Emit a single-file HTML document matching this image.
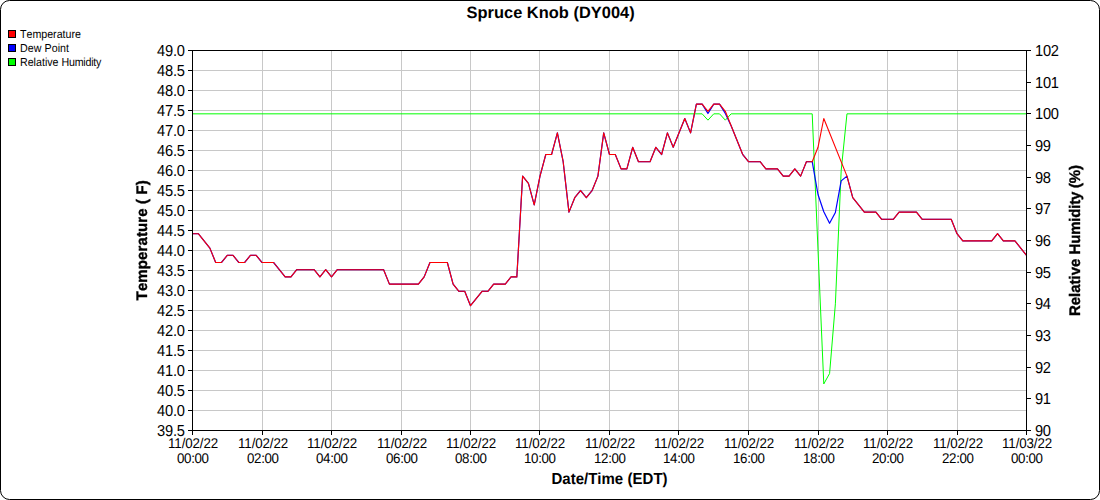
<!DOCTYPE html>
<html><head><meta charset="utf-8"><title>Spruce Knob (DY004)</title>
<style>
html,body{margin:0;padding:0;background:#fff;}
body{width:1100px;height:500px;overflow:hidden;font-family:"Liberation Sans",sans-serif;}
#c{position:absolute;left:0;top:0;width:1100px;height:500px;box-sizing:border-box;border:1px solid #000;border-radius:9.5px;background:#fff;}
svg{position:absolute;left:0;top:0;}
text{font-family:"Liberation Sans",sans-serif;fill:#000;text-rendering:geometricPrecision;}
.g{stroke:#c8c8c8;stroke-width:1;shape-rendering:crispEdges;}
.a{stroke:#000;stroke-width:1;shape-rendering:crispEdges;}
.yl{font-size:14px;text-anchor:end;}
.yr{font-size:14px;text-anchor:start;}
.xl{font-size:13px;text-anchor:middle;}
.lg{font-size:10.67px;}
.at{font-size:15px;font-weight:bold;text-anchor:middle;}
.s{fill:none;stroke-linejoin:round;}
</style></head><body>
<div id="c"></div>
<svg width="1100" height="500" viewBox="0 0 1100 500">

<line class="g" x1="193" x2="1026" y1="70.5" y2="70.5"/>
<line class="g" x1="193" x2="1026" y1="90.5" y2="90.5"/>
<line class="g" x1="193" x2="1026" y1="110.5" y2="110.5"/>
<line class="g" x1="193" x2="1026" y1="130.5" y2="130.5"/>
<line class="g" x1="193" x2="1026" y1="150.5" y2="150.5"/>
<line class="g" x1="193" x2="1026" y1="170.5" y2="170.5"/>
<line class="g" x1="193" x2="1026" y1="190.5" y2="190.5"/>
<line class="g" x1="193" x2="1026" y1="210.5" y2="210.5"/>
<line class="g" x1="193" x2="1026" y1="230.5" y2="230.5"/>
<line class="g" x1="193" x2="1026" y1="250.5" y2="250.5"/>
<line class="g" x1="193" x2="1026" y1="270.5" y2="270.5"/>
<line class="g" x1="193" x2="1026" y1="290.5" y2="290.5"/>
<line class="g" x1="193" x2="1026" y1="310.5" y2="310.5"/>
<line class="g" x1="193" x2="1026" y1="330.5" y2="330.5"/>
<line class="g" x1="193" x2="1026" y1="350.5" y2="350.5"/>
<line class="g" x1="193" x2="1026" y1="370.5" y2="370.5"/>
<line class="g" x1="193" x2="1026" y1="390.5" y2="390.5"/>
<line class="g" x1="193" x2="1026" y1="410.5" y2="410.5"/>
<line class="g" x1="262.5" x2="262.5" y1="51" y2="430"/>
<line class="g" x1="331.5" x2="331.5" y1="51" y2="430"/>
<line class="g" x1="401.5" x2="401.5" y1="51" y2="430"/>
<line class="g" x1="470.5" x2="470.5" y1="51" y2="430"/>
<line class="g" x1="539.5" x2="539.5" y1="51" y2="430"/>
<line class="g" x1="609.5" x2="609.5" y1="51" y2="430"/>
<line class="g" x1="678.5" x2="678.5" y1="51" y2="430"/>
<line class="g" x1="748.5" x2="748.5" y1="51" y2="430"/>
<line class="g" x1="818.5" x2="818.5" y1="51" y2="430"/>
<line class="g" x1="887.5" x2="887.5" y1="51" y2="430"/>
<line class="g" x1="957.5" x2="957.5" y1="51" y2="430"/>
<polyline class="s" stroke="#00ff00" stroke-width="1" points="192.50,113.83 702.17,113.83 707.96,120.17 713.75,113.83 719.54,113.83 725.33,120.17 731.12,113.83 812.21,113.83 818.00,250.00 823.79,383.95 829.58,373.50 835.38,303.83 841.17,170.83 846.96,113.83 1026.50,113.83"/>
<polyline class="s" stroke="#0000ff" stroke-width="1.2" points="192.50,233.70 198.29,233.70 209.88,248.10 215.67,262.50 221.46,262.50 227.25,255.30 233.04,255.30 238.83,262.50 244.62,262.50 250.42,255.30 256.21,255.30 262.00,262.50 273.58,262.50 285.17,276.90 290.96,276.90 296.75,269.70 314.12,269.70 319.92,276.90 325.71,269.70 331.50,276.90 337.29,269.70 383.62,269.70 389.42,284.10 418.38,284.10 424.17,276.90 429.96,262.50 447.33,262.50 453.12,284.10 458.92,291.30 464.71,291.30 470.50,305.70 482.08,291.30 487.88,291.30 493.67,284.10 505.25,284.10 511.04,276.90 516.83,276.90 522.62,176.10 528.42,183.30 534.21,204.90 540.00,176.10 545.79,154.50 551.58,154.50 557.38,132.90 563.17,161.70 568.96,212.10 574.75,197.70 580.54,190.50 586.33,197.70 592.12,190.50 597.92,176.10 603.71,132.90 609.50,154.50 615.29,154.50 621.08,168.90 626.88,168.90 632.67,147.30 638.46,161.70 650.04,161.70 655.83,147.30 661.62,154.50 667.42,132.90 673.21,147.30 684.79,118.50 690.58,132.90 696.38,104.10 702.17,104.10 707.96,113.50 713.75,104.10 719.54,104.10 725.33,113.40 731.12,125.70 742.71,154.50 748.50,161.70 760.08,161.70 765.88,168.90 777.46,168.90 783.25,176.10 789.04,176.10 794.83,168.90 800.62,176.10 806.42,161.70 812.21,161.70 818.00,194.50 823.79,211.70 829.58,223.30 835.38,212.50 841.17,180.90 846.96,176.10 852.75,197.70 864.33,212.10 875.92,212.10 881.71,219.30 893.29,219.30 899.08,212.10 916.46,212.10 922.25,219.30 951.21,219.30 957.00,233.70 962.79,240.90 991.75,240.90 997.54,233.70 1003.33,240.90 1014.92,240.90 1026.50,255.30"/>
<polyline class="s" stroke="#ff0000" stroke-width="1.1" points="192.50,233.70 198.29,233.70 209.88,248.10 215.67,262.50 221.46,262.50 227.25,255.30 233.04,255.30 238.83,262.50 244.62,262.50 250.42,255.30 256.21,255.30 262.00,262.50 273.58,262.50 285.17,276.90 290.96,276.90 296.75,269.70 314.12,269.70 319.92,276.90 325.71,269.70 331.50,276.90 337.29,269.70 383.62,269.70 389.42,284.10 418.38,284.10 424.17,276.90 429.96,262.50 447.33,262.50 453.12,284.10 458.92,291.30 464.71,291.30 470.50,305.70 482.08,291.30 487.88,291.30 493.67,284.10 505.25,284.10 511.04,276.90 516.83,276.90 522.62,176.10 528.42,183.30 534.21,204.90 540.00,176.10 545.79,154.50 551.58,154.50 557.38,132.90 563.17,161.70 568.96,212.10 574.75,197.70 580.54,190.50 586.33,197.70 592.12,190.50 597.92,176.10 603.71,132.90 609.50,154.50 615.29,154.50 621.08,168.90 626.88,168.90 632.67,147.30 638.46,161.70 650.04,161.70 655.83,147.30 661.62,154.50 667.42,132.90 673.21,147.30 684.79,118.50 690.58,132.90 696.38,104.10 702.17,104.10 707.96,111.30 713.75,104.10 719.54,104.10 725.33,111.30 742.71,154.50 748.50,161.70 760.08,161.70 765.88,168.90 777.46,168.90 783.25,176.10 789.04,176.10 794.83,168.90 800.62,176.10 806.42,161.70 812.21,161.70 818.00,147.30 823.79,118.50 846.96,176.10 852.75,197.70 864.33,212.10 875.92,212.10 881.71,219.30 893.29,219.30 899.08,212.10 916.46,212.10 922.25,219.30 951.21,219.30 957.00,233.70 962.79,240.90 991.75,240.90 997.54,233.70 1003.33,240.90 1014.92,240.90 1026.50,255.30"/>
<rect x="192.5" y="50.5" width="834" height="380" fill="none" class="a"/>
<line class="a" x1="188" x2="192" y1="50.5" y2="50.5"/>
<text transform="translate(185.00,55.85) scale(1,1.080)" font-size="14.67px" text-anchor="end" textLength="28.00" lengthAdjust="spacing">49.0</text>
<line class="a" x1="188" x2="192" y1="70.5" y2="70.5"/>
<text transform="translate(185.00,75.85) scale(1,1.080)" font-size="14.67px" text-anchor="end" textLength="28.00" lengthAdjust="spacing">48.5</text>
<line class="a" x1="188" x2="192" y1="90.5" y2="90.5"/>
<text transform="translate(185.00,95.85) scale(1,1.080)" font-size="14.67px" text-anchor="end" textLength="28.00" lengthAdjust="spacing">48.0</text>
<line class="a" x1="188" x2="192" y1="110.5" y2="110.5"/>
<text transform="translate(185.00,115.85) scale(1,1.080)" font-size="14.67px" text-anchor="end" textLength="28.00" lengthAdjust="spacing">47.5</text>
<line class="a" x1="188" x2="192" y1="130.5" y2="130.5"/>
<text transform="translate(185.00,135.85) scale(1,1.080)" font-size="14.67px" text-anchor="end" textLength="28.00" lengthAdjust="spacing">47.0</text>
<line class="a" x1="188" x2="192" y1="150.5" y2="150.5"/>
<text transform="translate(185.00,155.85) scale(1,1.080)" font-size="14.67px" text-anchor="end" textLength="28.00" lengthAdjust="spacing">46.5</text>
<line class="a" x1="188" x2="192" y1="170.5" y2="170.5"/>
<text transform="translate(185.00,175.85) scale(1,1.080)" font-size="14.67px" text-anchor="end" textLength="28.00" lengthAdjust="spacing">46.0</text>
<line class="a" x1="188" x2="192" y1="190.5" y2="190.5"/>
<text transform="translate(185.00,195.85) scale(1,1.080)" font-size="14.67px" text-anchor="end" textLength="28.00" lengthAdjust="spacing">45.5</text>
<line class="a" x1="188" x2="192" y1="210.5" y2="210.5"/>
<text transform="translate(185.00,215.85) scale(1,1.080)" font-size="14.67px" text-anchor="end" textLength="28.00" lengthAdjust="spacing">45.0</text>
<line class="a" x1="188" x2="192" y1="230.5" y2="230.5"/>
<text transform="translate(185.00,235.85) scale(1,1.080)" font-size="14.67px" text-anchor="end" textLength="28.00" lengthAdjust="spacing">44.5</text>
<line class="a" x1="188" x2="192" y1="250.5" y2="250.5"/>
<text transform="translate(185.00,255.85) scale(1,1.080)" font-size="14.67px" text-anchor="end" textLength="28.00" lengthAdjust="spacing">44.0</text>
<line class="a" x1="188" x2="192" y1="270.5" y2="270.5"/>
<text transform="translate(185.00,275.85) scale(1,1.080)" font-size="14.67px" text-anchor="end" textLength="28.00" lengthAdjust="spacing">43.5</text>
<line class="a" x1="188" x2="192" y1="290.5" y2="290.5"/>
<text transform="translate(185.00,295.85) scale(1,1.080)" font-size="14.67px" text-anchor="end" textLength="28.00" lengthAdjust="spacing">43.0</text>
<line class="a" x1="188" x2="192" y1="310.5" y2="310.5"/>
<text transform="translate(185.00,315.85) scale(1,1.080)" font-size="14.67px" text-anchor="end" textLength="28.00" lengthAdjust="spacing">42.5</text>
<line class="a" x1="188" x2="192" y1="330.5" y2="330.5"/>
<text transform="translate(185.00,335.85) scale(1,1.080)" font-size="14.67px" text-anchor="end" textLength="28.00" lengthAdjust="spacing">42.0</text>
<line class="a" x1="188" x2="192" y1="350.5" y2="350.5"/>
<text transform="translate(185.00,355.85) scale(1,1.080)" font-size="14.67px" text-anchor="end" textLength="28.00" lengthAdjust="spacing">41.5</text>
<line class="a" x1="188" x2="192" y1="370.5" y2="370.5"/>
<text transform="translate(185.00,375.85) scale(1,1.080)" font-size="14.67px" text-anchor="end" textLength="28.00" lengthAdjust="spacing">41.0</text>
<line class="a" x1="188" x2="192" y1="390.5" y2="390.5"/>
<text transform="translate(185.00,395.85) scale(1,1.080)" font-size="14.67px" text-anchor="end" textLength="28.00" lengthAdjust="spacing">40.5</text>
<line class="a" x1="188" x2="192" y1="410.5" y2="410.5"/>
<text transform="translate(185.00,415.85) scale(1,1.080)" font-size="14.67px" text-anchor="end" textLength="28.00" lengthAdjust="spacing">40.0</text>
<line class="a" x1="188" x2="192" y1="430.5" y2="430.5"/>
<text transform="translate(185.00,435.85) scale(1,1.080)" font-size="14.67px" text-anchor="end" textLength="28.00" lengthAdjust="spacing">39.5</text>
<line class="a" x1="1027" x2="1031" y1="50.5" y2="50.5"/>
<text transform="translate(1035.00,55.85) scale(1,1.080)" font-size="14.67px" textLength="24.00" lengthAdjust="spacing">102</text>
<line class="a" x1="1027" x2="1031" y1="82.5" y2="82.5"/>
<text transform="translate(1035.00,87.85) scale(1,1.080)" font-size="14.67px" textLength="24.00" lengthAdjust="spacing">101</text>
<line class="a" x1="1027" x2="1031" y1="113.5" y2="113.5"/>
<text transform="translate(1035.00,118.85) scale(1,1.080)" font-size="14.67px" textLength="24.00" lengthAdjust="spacing">100</text>
<line class="a" x1="1027" x2="1031" y1="145.5" y2="145.5"/>
<text transform="translate(1035.00,150.85) scale(1,1.080)" font-size="14.67px" textLength="16.00" lengthAdjust="spacing">99</text>
<line class="a" x1="1027" x2="1031" y1="177.5" y2="177.5"/>
<text transform="translate(1035.00,182.85) scale(1,1.080)" font-size="14.67px" textLength="16.00" lengthAdjust="spacing">98</text>
<line class="a" x1="1027" x2="1031" y1="208.5" y2="208.5"/>
<text transform="translate(1035.00,213.85) scale(1,1.080)" font-size="14.67px" textLength="16.00" lengthAdjust="spacing">97</text>
<line class="a" x1="1027" x2="1031" y1="240.5" y2="240.5"/>
<text transform="translate(1035.00,245.85) scale(1,1.080)" font-size="14.67px" textLength="16.00" lengthAdjust="spacing">96</text>
<line class="a" x1="1027" x2="1031" y1="272.5" y2="272.5"/>
<text transform="translate(1035.00,277.85) scale(1,1.080)" font-size="14.67px" textLength="16.00" lengthAdjust="spacing">95</text>
<line class="a" x1="1027" x2="1031" y1="303.5" y2="303.5"/>
<text transform="translate(1035.00,308.85) scale(1,1.080)" font-size="14.67px" textLength="16.00" lengthAdjust="spacing">94</text>
<line class="a" x1="1027" x2="1031" y1="335.5" y2="335.5"/>
<text transform="translate(1035.00,340.85) scale(1,1.080)" font-size="14.67px" textLength="16.00" lengthAdjust="spacing">93</text>
<line class="a" x1="1027" x2="1031" y1="367.5" y2="367.5"/>
<text transform="translate(1035.00,372.85) scale(1,1.080)" font-size="14.67px" textLength="16.00" lengthAdjust="spacing">92</text>
<line class="a" x1="1027" x2="1031" y1="398.5" y2="398.5"/>
<text transform="translate(1035.00,403.85) scale(1,1.080)" font-size="14.67px" textLength="16.00" lengthAdjust="spacing">91</text>
<line class="a" x1="1027" x2="1031" y1="430.5" y2="430.5"/>
<text transform="translate(1035.00,435.85) scale(1,1.080)" font-size="14.67px" textLength="16.00" lengthAdjust="spacing">90</text>
<line class="a" x1="192.5" x2="192.5" y1="431" y2="435"/>
<text transform="translate(193.10,447.90) scale(1,1.060)" font-size="13.33px" text-anchor="middle" textLength="50.20" lengthAdjust="spacing">11/02/22</text>
<text transform="translate(193.00,462.90) scale(1,1.060)" font-size="13.33px" text-anchor="middle" textLength="32.00" lengthAdjust="spacing">00:00</text>
<line class="a" x1="262.5" x2="262.5" y1="431" y2="435"/>
<text transform="translate(263.10,447.90) scale(1,1.060)" font-size="13.33px" text-anchor="middle" textLength="50.20" lengthAdjust="spacing">11/02/22</text>
<text transform="translate(263.00,462.90) scale(1,1.060)" font-size="13.33px" text-anchor="middle" textLength="32.00" lengthAdjust="spacing">02:00</text>
<line class="a" x1="331.5" x2="331.5" y1="431" y2="435"/>
<text transform="translate(332.10,447.90) scale(1,1.060)" font-size="13.33px" text-anchor="middle" textLength="50.20" lengthAdjust="spacing">11/02/22</text>
<text transform="translate(332.00,462.90) scale(1,1.060)" font-size="13.33px" text-anchor="middle" textLength="32.00" lengthAdjust="spacing">04:00</text>
<line class="a" x1="401.5" x2="401.5" y1="431" y2="435"/>
<text transform="translate(402.10,447.90) scale(1,1.060)" font-size="13.33px" text-anchor="middle" textLength="50.20" lengthAdjust="spacing">11/02/22</text>
<text transform="translate(402.00,462.90) scale(1,1.060)" font-size="13.33px" text-anchor="middle" textLength="32.00" lengthAdjust="spacing">06:00</text>
<line class="a" x1="470.5" x2="470.5" y1="431" y2="435"/>
<text transform="translate(471.10,447.90) scale(1,1.060)" font-size="13.33px" text-anchor="middle" textLength="50.20" lengthAdjust="spacing">11/02/22</text>
<text transform="translate(471.00,462.90) scale(1,1.060)" font-size="13.33px" text-anchor="middle" textLength="32.00" lengthAdjust="spacing">08:00</text>
<line class="a" x1="539.5" x2="539.5" y1="431" y2="435"/>
<text transform="translate(540.10,447.90) scale(1,1.060)" font-size="13.33px" text-anchor="middle" textLength="50.20" lengthAdjust="spacing">11/02/22</text>
<text transform="translate(540.00,462.90) scale(1,1.060)" font-size="13.33px" text-anchor="middle" textLength="32.00" lengthAdjust="spacing">10:00</text>
<line class="a" x1="609.5" x2="609.5" y1="431" y2="435"/>
<text transform="translate(610.10,447.90) scale(1,1.060)" font-size="13.33px" text-anchor="middle" textLength="50.20" lengthAdjust="spacing">11/02/22</text>
<text transform="translate(610.00,462.90) scale(1,1.060)" font-size="13.33px" text-anchor="middle" textLength="32.00" lengthAdjust="spacing">12:00</text>
<line class="a" x1="678.5" x2="678.5" y1="431" y2="435"/>
<text transform="translate(679.10,447.90) scale(1,1.060)" font-size="13.33px" text-anchor="middle" textLength="50.20" lengthAdjust="spacing">11/02/22</text>
<text transform="translate(679.00,462.90) scale(1,1.060)" font-size="13.33px" text-anchor="middle" textLength="32.00" lengthAdjust="spacing">14:00</text>
<line class="a" x1="748.5" x2="748.5" y1="431" y2="435"/>
<text transform="translate(749.10,447.90) scale(1,1.060)" font-size="13.33px" text-anchor="middle" textLength="50.20" lengthAdjust="spacing">11/02/22</text>
<text transform="translate(749.00,462.90) scale(1,1.060)" font-size="13.33px" text-anchor="middle" textLength="32.00" lengthAdjust="spacing">16:00</text>
<line class="a" x1="818.5" x2="818.5" y1="431" y2="435"/>
<text transform="translate(819.10,447.90) scale(1,1.060)" font-size="13.33px" text-anchor="middle" textLength="50.20" lengthAdjust="spacing">11/02/22</text>
<text transform="translate(819.00,462.90) scale(1,1.060)" font-size="13.33px" text-anchor="middle" textLength="32.00" lengthAdjust="spacing">18:00</text>
<line class="a" x1="887.5" x2="887.5" y1="431" y2="435"/>
<text transform="translate(888.10,447.90) scale(1,1.060)" font-size="13.33px" text-anchor="middle" textLength="50.20" lengthAdjust="spacing">11/02/22</text>
<text transform="translate(888.00,462.90) scale(1,1.060)" font-size="13.33px" text-anchor="middle" textLength="32.00" lengthAdjust="spacing">20:00</text>
<line class="a" x1="957.5" x2="957.5" y1="431" y2="435"/>
<text transform="translate(958.10,447.90) scale(1,1.060)" font-size="13.33px" text-anchor="middle" textLength="50.20" lengthAdjust="spacing">11/02/22</text>
<text transform="translate(958.00,462.90) scale(1,1.060)" font-size="13.33px" text-anchor="middle" textLength="32.00" lengthAdjust="spacing">22:00</text>
<line class="a" x1="1026.5" x2="1026.5" y1="431" y2="435"/>
<text transform="translate(1027.10,447.90) scale(1,1.060)" font-size="13.33px" text-anchor="middle" textLength="50.20" lengthAdjust="spacing">11/03/22</text>
<text transform="translate(1027.00,462.90) scale(1,1.060)" font-size="13.33px" text-anchor="middle" textLength="32.00" lengthAdjust="spacing">00:00</text>
<text transform="translate(550.60,17.90)" font-size="16.4px" text-anchor="middle" font-weight="bold" textLength="168.20" lengthAdjust="spacing">Spruce Knob (DY004)</text>
<text transform="translate(609.50,483.50) scale(1,1.060)" font-size="15px" text-anchor="middle" font-weight="bold" textLength="116.20" lengthAdjust="spacing">Date/Time (EDT)</text>
<text transform="translate(147.30,240.35) rotate(-90) scale(1,1.020)" font-size="15px" text-anchor="middle" font-weight="bold" textLength="120.10" lengthAdjust="spacing" style="filter:grayscale(1);stroke:#000;stroke-width:0.35px;font-kerning:none">Temperature ( F)</text>
<text transform="translate(1079.80,316.10) rotate(-90) scale(1,1.020)" font-size="15px" font-weight="bold" style="filter:grayscale(1);stroke:#000;stroke-width:0.35px">Relative</text>
<text transform="translate(1079.80,254.40) rotate(-90) scale(1,1.020)" font-size="15px" font-weight="bold" textLength="89.30" lengthAdjust="spacing" style="filter:grayscale(1);stroke:#000;stroke-width:0.35px">Humidity (%)</text>
<rect x="8.5" y="30.5" width="7" height="7" fill="#ff0000" stroke="#000" stroke-width="1" shape-rendering="crispEdges"/>
<text transform="translate(20.00,38.00) scale(1,1.090)" font-size="10.67px" textLength="60.90" lengthAdjust="spacing" style="font-kerning:none">Temperature</text>
<rect x="8.5" y="44.5" width="7" height="7" fill="#0000ff" stroke="#000" stroke-width="1" shape-rendering="crispEdges"/>
<text transform="translate(20.00,52.00) scale(1,1.090)" font-size="10.67px" textLength="49.00" lengthAdjust="spacing" style="font-kerning:none">Dew Point</text>
<rect x="8.5" y="58.5" width="7" height="7" fill="#00ff00" stroke="#000" stroke-width="1" shape-rendering="crispEdges"/>
<text transform="translate(20.00,66.00) scale(1,1.090)" font-size="10.67px">Relative</text>
<text transform="translate(61.50,66.00) scale(1,1.090)" font-size="10.67px" textLength="39.90" lengthAdjust="spacing">Humidity</text>
</svg>
</body></html>
